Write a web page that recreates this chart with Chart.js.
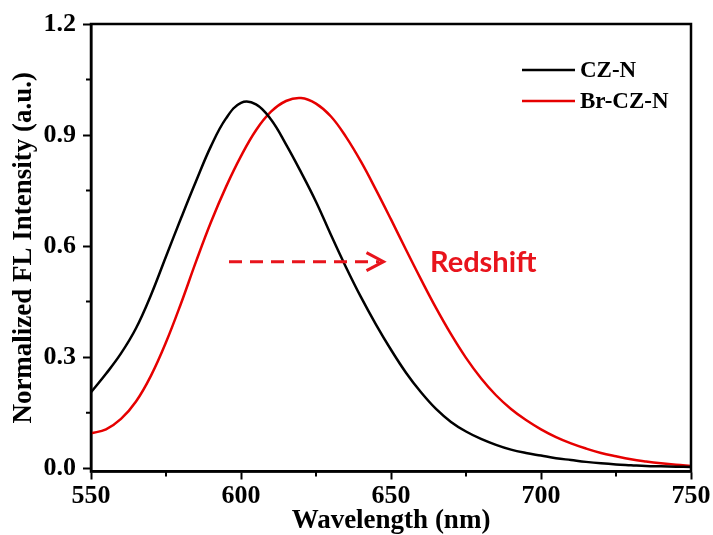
<!DOCTYPE html>
<html>
<head>
<meta charset="utf-8">
<script src="https://cdn.jsdelivr.net/npm/chart.js@4.4.1/dist/chart.umd.min.js"></script>
<style>
  body { margin: 0; background: #fff; }
</style>
</head>
<body>
<canvas id="flChart" width="713" height="535"></canvas>
<script>
const wavelengths = [550, 555, 560, 565, 570, 575, 580, 585, 590, 595,
    600, 605, 610, 615, 620, 625, 630, 635, 640, 645,
    650, 655, 660, 665, 670, 675, 680, 685, 690, 695,
    700, 705, 710, 715, 720, 725, 730, 735, 740, 745, 750];

const czN = [0.205, 0.255, 0.31, 0.378, 0.468, 0.572, 0.675, 0.775, 0.87, 0.945,
    0.987, 0.983, 0.942, 0.875, 0.80, 0.72, 0.63, 0.543, 0.462, 0.388,
    0.32, 0.258, 0.205, 0.16, 0.125, 0.099, 0.079, 0.063, 0.05, 0.041,
    0.034, 0.027, 0.022, 0.017, 0.013, 0.010, 0.008, 0.006, 0.005, 0.004, 0.003];

const brCzN = [0.094, 0.105, 0.133, 0.18, 0.25, 0.34, 0.445, 0.558, 0.665, 0.76,
    0.843, 0.913, 0.963, 0.992, 1.0, 0.985, 0.95, 0.895, 0.828, 0.752,
    0.672, 0.59, 0.51, 0.433, 0.362, 0.298, 0.243, 0.197, 0.16, 0.13,
    0.105, 0.084, 0.067, 0.053, 0.041, 0.032, 0.024, 0.018, 0.013, 0.009, 0.006];

const seriesLabels = ['CZ-N', 'Br-CZ-N'];
const seriesColors = ['#000000', '#e60000'];

const xTicks = [550, 600, 650, 700, 750];
const xMinorTicks = [575, 625, 675, 725];
const yTicks = [0, 0.3, 0.6, 0.9, 1.2];
const yMinorTicks = [0.15, 0.45, 0.75, 1.05];

// dashed arrow + label, in data units
const shiftFrom = 596;
const shiftTo = 647.5;
const shiftLevel = 0.558;
const shiftTextAt = 663;
const shiftText = 'Redshift';

const serif = '"Liberation Serif", "Times New Roman", serif';

function toPoints(values) {
    return values.map((v, i) => ({x: wavelengths[i], y: v}));
}

// frame, minor ticks, legend and the redshift arrow
const extrasPlugin = {
    id: 'extras',
    afterDraw(chart) {
        const ctx = chart.ctx;
        const area = chart.chartArea;
        const xs = chart.scales.x;
        const ys = chart.scales.y;
        ctx.save();

        // box
        ctx.strokeStyle = '#000';
        ctx.lineWidth = 2.5;
        ctx.strokeRect(area.left, area.top, area.right - area.left, area.bottom - area.top);

        // minor ticks
        ctx.lineWidth = 2;
        ctx.beginPath();
        xMinorTicks.forEach(v => {
            const px = xs.getPixelForValue(v);
            ctx.moveTo(px, area.bottom);
            ctx.lineTo(px, area.bottom + 5);
        });
        yMinorTicks.forEach(v => {
            const py = ys.getPixelForValue(v);
            ctx.moveTo(area.left, py);
            ctx.lineTo(area.left - 5, py);
        });
        ctx.stroke();

        // legend
        ctx.font = 'bold 23px ' + serif;
        ctx.textBaseline = 'middle';
        ctx.textAlign = 'left';
        chart.data.datasets.forEach((ds, i) => {
            const y = area.top + 46 + i * 31;
            ctx.strokeStyle = ds.borderColor;
            ctx.lineWidth = 2.5;
            ctx.beginPath();
            ctx.moveTo(area.right - 169, y);
            ctx.lineTo(area.right - 116, y);
            ctx.stroke();
            ctx.fillStyle = '#000';
            ctx.fillText(ds.label, area.right - 111, y + 1);
        });

        // redshift arrow
        const ay = ys.getPixelForValue(shiftLevel);
        const ax0 = xs.getPixelForValue(shiftFrom);
        const ax1 = xs.getPixelForValue(shiftTo);
        ctx.strokeStyle = '#e8141c';
        ctx.lineWidth = 3;
        ctx.setLineDash([13, 8]);
        ctx.beginPath();
        ctx.moveTo(ax0, ay);
        ctx.lineTo(ax1 - 4, ay);
        ctx.stroke();
        ctx.setLineDash([]);
        ctx.beginPath();
        ctx.moveTo(ax1 - 17, ay - 9);
        ctx.lineTo(ax1, ay);
        ctx.lineTo(ax1 - 17, ay + 9);
        ctx.stroke();

        ctx.fillStyle = '#e8141c';
        ctx.font = 'bold 29px Lato, "Open Sans", sans-serif';
        ctx.fillText(shiftText, xs.getPixelForValue(shiftTextAt), ay + 1);
        ctx.restore();
    }
};

const ctx = document.getElementById('flChart').getContext('2d');
new Chart(ctx, {
    type: 'line',
    data: {
        datasets: [
            {label: seriesLabels[0], data: toPoints(czN), borderColor: seriesColors[0]},
            {label: seriesLabels[1], data: toPoints(brCzN), borderColor: seriesColors[1]}
        ]
    },
    options: {
        responsive: false,
        animation: false,
        layout: {padding: {top: 24, right: 22, left: 0, bottom: 0}},
        elements: {
            point: {radius: 0},
            line: {borderWidth: 2.5, tension: 0.4, fill: false}
        },
        plugins: {legend: {display: false}, tooltip: {enabled: false}},
        scales: {
            x: {
                type: 'linear',
                min: 550,
                max: 750,
                afterBuildTicks: scale => { scale.ticks = xTicks.map(v => ({value: v})); },
                afterFit: scale => { scale.height = 63.5; },
                border: {color: '#000', width: 2.5},
                grid: {drawOnChartArea: false, tickLength: 8, tickWidth: 2, tickColor: '#000'},
                ticks: {color: '#000', padding: 1, maxRotation: 0, font: {family: serif, size: 26, weight: 'bold'}},
                title: {display: true, text: 'Wavelength (nm)', color: '#000',
                    font: {family: serif, size: 27, weight: 'bold', lineHeight: 1}, padding: {top: 0, bottom: 0}}
            },
            y: {
                min: -0.009,
                max: 1.2,
                afterBuildTicks: scale => { scale.ticks = yTicks.map(v => ({value: v})); },
                afterFit: scale => { scale.width = 91; },
                border: {color: '#000', width: 2.5},
                grid: {drawOnChartArea: false, tickLength: 8, tickWidth: 2, tickColor: '#000'},
                ticks: {color: '#000', padding: 7, callback: v => v.toFixed(1),
                    font: {family: serif, size: 26, weight: 'bold'}},
                title: {display: true, text: 'Normalized FL Intensity (a.u.)', color: '#000',
                    font: {family: serif, size: 27, weight: 'bold'}, padding: {top: 8, bottom: 0}}
            }
        }
    },
    plugins: [extrasPlugin]
});
</script>
</body>
</html>
